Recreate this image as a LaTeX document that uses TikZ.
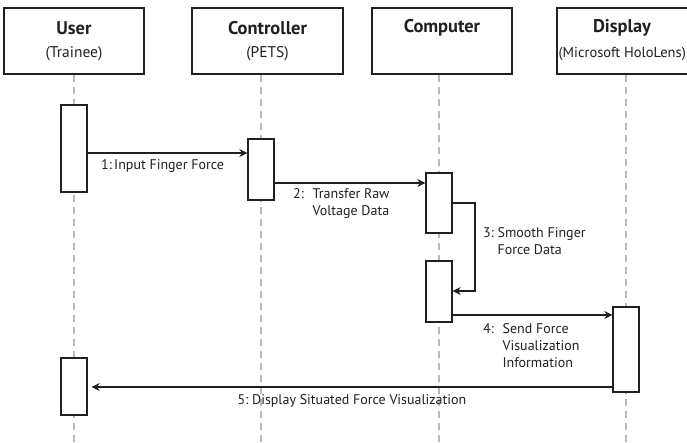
\documentclass[tikz,border=0pt]{standalone}
\usepackage{fontspec}
\setmainfont{PT Sans}
\usetikzlibrary{arrows.meta}
\definecolor{ink}{HTML}{231F20}
\definecolor{lifegray}{HTML}{B8B8B8}
\begin{document}
\begin{tikzpicture}[x=1pt,y=-1pt,
  hdr/.style={draw=ink, line width=1.3pt, fill=white, inner sep=0pt},
  ttl/.style={text=ink, font=\fontsize{18.4}{21}\selectfont\bfseries, inner sep=0pt},
  sub/.style={text=ink, font=\fontsize{15.5}{18}\selectfont, inner sep=0pt},
  act/.style={draw=ink, line width=1.3pt, fill=white, minimum width=26pt, inner sep=0pt},
  life/.style={draw=lifegray, line width=1.5pt, dash pattern=on 7pt off 5pt},
  msg/.style={draw=ink, line width=1.2pt, -{Stealth[length=8pt,width=8pt]}},
  lbl/.style={text=ink, font=\fontsize{14}{17}\selectfont, inner sep=0pt, align=left}]
\useasboundingbox (0,0) rectangle (687,443);
\fill[white] (0,0) rectangle (687,443);
% header boxes
\node[hdr, minimum width=140pt, minimum height=66pt] (user) at (74,41) {};
\node[hdr, minimum width=151pt, minimum height=66pt] (ctrl) at (267.5,41) {};
\node[hdr, minimum width=140pt, minimum height=66pt] (comp) at (442,41) {};
\node[hdr, minimum width=160pt, minimum height=66pt] (disp) at (637,41) {};
\node[ttl] (userT) at (74,28) {User};
\node[sub] (userS) at (74,54) {(Trainee)};
\node[ttl] (ctrlT) at (267.5,28) {Controller};
\node[sub] (ctrlS) at (267.5,54) {(PETS)};
\node[ttl] (compT) at (442,28) {Computer};
\node[ttl] (dispT) at (622,28) {Display};
\node[sub, font=\fontsize{14.5}{17}\selectfont, anchor=east] (dispS) at (686,54) {(Microsoft HoloLens)};
% lifeline ends
\coordinate (uEnd) at (74,443);
\coordinate (cEnd) at (261,443);
\coordinate (pEnd) at (439,443);
\coordinate (dEnd) at (626,443);
\draw[life] (user.south -| uEnd) -- (uEnd);
\draw[life] (ctrl.south -| cEnd) -- (cEnd);
\draw[life] (comp.south -| pEnd) -- (pEnd);
\draw[life] (disp.south -| dEnd) -- (dEnd);
% activations
\node[act, minimum height=87pt] (u1) at (74,148.5) {};
\node[act, minimum height=61pt] (c1) at (261,169.5) {};
\node[act, minimum height=60pt] (p1) at (439,203) {};
\node[act, minimum height=61pt] (p2) at (439,291.5) {};
\node[act, minimum height=85pt] (d1) at (626,349.5) {};
\node[act, minimum height=57pt] (u2) at (74,386.5) {};
% messages
\draw[msg] (u1.east |- 0,153) -- (c1.west |- 0,153);
\draw[msg] (c1.east |- 0,183) -- (p1.west |- 0,183);
\coordinate (loop) at (475,0);
\draw[msg] (p1.east |- 0,203) -- (loop |- 0,203) -- (loop |- 0,291) -- (p2.east |- 0,291);
\draw[msg] (p2.east |- 0,315) -- (d1.west |- 0,315);
\draw[msg, shorten >=4pt] (d1.west |- 0,387) -- (u2.east |- 0,387);
% labels
\node[lbl, anchor=west] (l1) at (101,166) {1:\,Input Finger Force};
\node[lbl, anchor=west] (l2) at (293,204) {2:~ Transfer Raw\\\hphantom{2:~ }Voltage Data};
\node[lbl, anchor=west] (l3) at (483,241.5) {3:~Smooth Finger\\\hphantom{3:~}Force Data};
\node[lbl, anchor=west] (l4) at (483,346) {4:~ Send Force\\\hphantom{4:~ }Visualization\\\hphantom{4:~ }Information};
\node[lbl] (l5) at (352,401) {5:~Display Situated Force Visualization};
\end{tikzpicture}
\end{document}
